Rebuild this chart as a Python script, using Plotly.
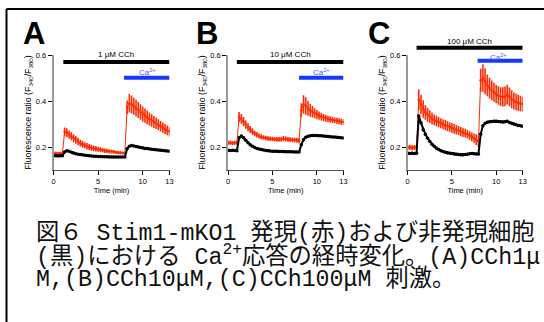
import plotly.graph_objects as go

# ---------------- data ----------------
TIME = [0, 0.25, 0.5, 0.75, 1, 1.25, 1.5, 1.75, 2, 2.25, 2.5, 2.75, 3, 3.25, 3.5, 3.75,
        4, 4.25, 4.5, 4.75, 5, 5.25, 5.5, 5.75, 6, 6.25, 6.5, 6.75, 7, 7.25, 7.5, 7.75,
        8, 8.25, 8.5, 8.75, 9, 9.25, 9.5, 9.75, 10, 10.25, 10.5, 10.75, 11, 11.25, 11.5,
        11.75, 12, 12.25, 12.5, 12.75, 13]

# Panel A: 1 uM CCh
RED_A = [0.172, 0.173, 0.171, 0.172, 0.173,
         0.266, 0.262, 0.254, 0.246, 0.238, 0.231, 0.224, 0.217, 0.212, 0.207, 0.203,
         0.200, 0.197, 0.194, 0.192, 0.190, 0.188, 0.186, 0.184, 0.183, 0.181, 0.180,
         0.179, 0.177, 0.176, 0.175, 0.174, 0.173,
         0.372, 0.390, 0.385, 0.377, 0.369, 0.361, 0.352, 0.343, 0.336, 0.329, 0.322,
         0.315, 0.309, 0.303, 0.297, 0.290, 0.284, 0.278, 0.272, 0.267]
RED_A_ERR = [0.007, 0.007, 0.007, 0.007, 0.007,
             0.019, 0.019, 0.018, 0.018, 0.017, 0.017, 0.016, 0.015, 0.015, 0.014, 0.014,
             0.013, 0.013, 0.012, 0.012, 0.011, 0.011, 0.010, 0.010, 0.009, 0.009, 0.008,
             0.008, 0.007, 0.007, 0.007, 0.006, 0.006,
             0.030, 0.040, 0.039, 0.037, 0.036, 0.035, 0.034, 0.033, 0.031, 0.030, 0.028,
             0.027, 0.026, 0.025, 0.024, 0.023, 0.022, 0.022, 0.021, 0.021]
BLACK_A = [0.162, 0.162, 0.161, 0.162, 0.162,
           0.178, 0.184, 0.181, 0.177, 0.174, 0.171, 0.169, 0.167, 0.166, 0.164, 0.163,
           0.162, 0.161, 0.160, 0.160, 0.159, 0.159, 0.158, 0.158, 0.158, 0.157, 0.157,
           0.157, 0.157, 0.156, 0.156, 0.156, 0.156,
           0.192, 0.203, 0.206, 0.204, 0.202, 0.200, 0.198, 0.196, 0.194, 0.193, 0.191,
           0.190, 0.189, 0.188, 0.187, 0.186, 0.185, 0.184, 0.183, 0.182]
BLACK_A_ERR = 0.003

# Panel B: 10 uM CCh
RED_B = [0.218, 0.219, 0.217, 0.218, 0.219,
         0.330, 0.322, 0.310, 0.297, 0.286, 0.276, 0.267, 0.259, 0.253, 0.248, 0.244,
         0.241, 0.239, 0.237, 0.236, 0.235, 0.234, 0.233, 0.233, 0.234, 0.237, 0.235,
         0.233, 0.232, 0.231, 0.230, 0.229, 0.227,
         0.360, 0.385, 0.378, 0.368, 0.360, 0.353, 0.347, 0.341, 0.336, 0.332, 0.328,
         0.325, 0.322, 0.320, 0.318, 0.316, 0.314, 0.312, 0.310, 0.309]
RED_B_ERR = [0.009, 0.009, 0.009, 0.009, 0.009,
             0.022, 0.021, 0.020, 0.018, 0.017, 0.015, 0.014, 0.012, 0.012, 0.011, 0.011,
             0.010, 0.010, 0.010, 0.010, 0.010, 0.010, 0.010, 0.010, 0.011, 0.011, 0.011,
             0.010, 0.010, 0.010, 0.010, 0.011, 0.011,
             0.030, 0.040, 0.038, 0.032, 0.028, 0.025, 0.022, 0.020, 0.018, 0.017, 0.016,
             0.015, 0.014, 0.014, 0.014, 0.013, 0.013, 0.013, 0.013, 0.013]
BLACK_B = [0.186, 0.185, 0.186, 0.185, 0.184,
           0.240, 0.248, 0.240, 0.229, 0.219, 0.210, 0.203, 0.198, 0.194, 0.191, 0.189,
           0.187, 0.185, 0.184, 0.183, 0.182, 0.181, 0.181, 0.180, 0.180, 0.180, 0.179,
           0.179, 0.179, 0.179, 0.178, 0.178, 0.178,
           0.210, 0.232, 0.242, 0.247, 0.249, 0.250, 0.250, 0.250, 0.249, 0.249, 0.248,
           0.247, 0.246, 0.245, 0.244, 0.243, 0.242, 0.241, 0.240, 0.239]
BLACK_B_ERR = 0.004

# Panel C: 100 uM CCh
RED_C = [0.198, 0.199, 0.197, 0.198, 0.199,
         0.405, 0.385, 0.365, 0.350, 0.340, 0.332, 0.324, 0.318, 0.313, 0.308, 0.303,
         0.299, 0.295, 0.291, 0.287, 0.283, 0.279, 0.275, 0.271, 0.267, 0.263, 0.260,
         0.256, 0.250, 0.244, 0.238, 0.232, 0.225,
         0.490, 0.500, 0.485, 0.468, 0.456, 0.446, 0.438, 0.430, 0.424, 0.419, 0.418,
         0.420, 0.428, 0.418, 0.408, 0.400, 0.396, 0.392, 0.389, 0.386]
RED_C_ERR = [0.011, 0.011, 0.011, 0.011, 0.011,
             0.045, 0.042, 0.038, 0.032, 0.030, 0.028, 0.026, 0.023, 0.023, 0.022, 0.022,
             0.022, 0.022, 0.022, 0.021, 0.021, 0.021, 0.021, 0.020, 0.020, 0.020, 0.019,
             0.019, 0.018, 0.019, 0.021, 0.023, 0.025,
             0.050, 0.060, 0.056, 0.047, 0.045, 0.043, 0.041, 0.040, 0.040, 0.041, 0.042,
             0.043, 0.043, 0.041, 0.039, 0.037, 0.036, 0.035, 0.034, 0.033]
BLACK_C = [0.173, 0.172, 0.173, 0.172, 0.173,
           0.335, 0.305, 0.275, 0.255, 0.238, 0.224, 0.212, 0.203, 0.195, 0.189, 0.184,
           0.180, 0.177, 0.175, 0.173, 0.172, 0.170, 0.168, 0.167, 0.166, 0.166, 0.167,
           0.169, 0.171, 0.172, 0.171, 0.170, 0.170,
           0.255, 0.292, 0.303, 0.308, 0.310, 0.311, 0.312, 0.312, 0.311, 0.310, 0.309,
           0.310, 0.312, 0.307, 0.303, 0.300, 0.297, 0.294, 0.292, 0.290]
BLACK_C_ERR = 0.006

PANELS = ["A", "B", "C"]
CCH_LABELS = ["1 μM CCh", "10 μM CCh", "100 μM CCh"]
CCH_START = [1.1, 1.0, 1.0]     # min
CA_START = [7.9, 8.0, 7.9]      # min
BAR_END = 13
X_TICKS = [0, 5, 10, 13]
Y_TICKS = [0.2, 0.4, 0.6]
Y_TICK_TEXT = ["0.2", "0.4", "0.6"]

SERIES = [
    (RED_A, RED_A_ERR, BLACK_A, BLACK_A_ERR),
    (RED_B, RED_B_ERR, BLACK_B, BLACK_B_ERR),
    (RED_C, RED_C_ERR, BLACK_C, BLACK_C_ERR),
]

CAPTION = [
    "図６ Stim1-mKO1 発現(赤)および非発現細胞",
    "(黒)における Ca<sup>2+</sup>応答の経時変化。(A)CCh1μ",
    "M,(B)CCh10μM,(C)CCh100μM 刺激。",
]

# ---------------- layout helpers ----------------
W, H = 544, 322
X_DOMAINS = [[53.5 / W, 169.5 / W], [228 / W, 343.5 / W], [407.7 / W, 522.7 / W]]
Y_DOMAIN = [1 - 170 / H, 1 - 55 / H]
RED = "#ff2a00"
BLUE = "#1438ff"
SANS = "Liberation Sans, Arial, sans-serif"

BAR_POS = [
    dict(lab=1.0, black=0.939, ca_lab=0.85, blue=0.803),
    dict(lab=1.0, black=0.939, ca_lab=0.85, blue=0.803),
    dict(lab=1.118, black=1.063, ca_lab=0.985, blue=0.950),
]
CA_LABEL_X = [10.5, 10.5, 10.3]
LETTER_X = [34, 206.5, 378.5]

fig = go.Figure()
shapes = []
annotations = []

for i, (red, red_err, black, black_err) in enumerate(SERIES):
    n = "" if i == 0 else str(i + 1)
    xa, ya = "x" + n, "y" + n
    fig.add_trace(go.Scatter(
        x=TIME, y=red, xaxis=xa, yaxis=ya, mode="lines+markers",
        line=dict(color=RED, width=1), marker=dict(color=RED, size=2.5),
        error_y=dict(type="data", array=red_err, color=RED, thickness=1.6, width=0),
        showlegend=False, hoverinfo="skip"))
    fig.add_trace(go.Scatter(
        x=TIME, y=black, xaxis=xa, yaxis=ya, mode="lines+markers",
        line=dict(color="black", width=2), marker=dict(color="black", size=3.5),
        error_y=dict(type="constant", value=black_err, color="black", thickness=1.2, width=0),
        showlegend=False, hoverinfo="skip"))

    fig.layout["xaxis" + n] = dict(
        domain=X_DOMAINS[i], anchor=ya, range=[0, 13], tickvals=X_TICKS, automargin=False,
        ticks="outside", ticklen=4, tickwidth=1, tickcolor="black",
        showline=True, linecolor="#555", linewidth=1, showgrid=False, zeroline=False,
        tickfont=dict(family=SANS, size=7.5, color="black"),
        title=dict(text="Time (min)", font=dict(family=SANS, size=7.5, color="black"), standoff=1))
    fig.layout["yaxis" + n] = dict(
        domain=Y_DOMAIN, anchor=xa, range=[0.1, 0.6], tickvals=Y_TICKS, ticktext=Y_TICK_TEXT,
        automargin=False,
        ticks="outside", ticklen=4, tickwidth=1, tickcolor="black",
        showline=True, linecolor="#9a9a9a", linewidth=1.5, showgrid=False, zeroline=False,
        tickfont=dict(family=SANS, size=7.5, color="black"),
        title=dict(text="Fluorescence ratio (F<sub>340</sub>/F<sub>380</sub>)",
                   font=dict(family=SANS, size=8.8, color="black"), standoff=3))

    p = BAR_POS[i]
    yd = ya + " domain"
    shapes.append(dict(type="line", xref=xa, yref=yd, x0=CCH_START[i], x1=BAR_END,
                       y0=p["black"], y1=p["black"], line=dict(color="black", width=4)))
    shapes.append(dict(type="line", xref=xa, yref=yd, x0=CA_START[i], x1=BAR_END,
                       y0=p["blue"], y1=p["blue"], line=dict(color=BLUE, width=4)))
    annotations.append(dict(xref=xa, yref=yd, x=7, y=p["lab"], text=CCH_LABELS[i],
                            showarrow=False, font=dict(family=SANS, size=8, color="black"),
                            xanchor="center", yanchor="middle"))
    annotations.append(dict(xref=xa, yref=yd, x=CA_LABEL_X[i], y=p["ca_lab"],
                            text="Ca<sup>2+</sup>", showarrow=False,
                            font=dict(family=SANS, size=8, color="#3a5cff"),
                            xanchor="center", yanchor="middle"))
    annotations.append(dict(xref="paper", yref="paper", x=LETTER_X[i] / W, y=1 - 34 / H,
                            text="<b>%s</b>" % PANELS[i], showarrow=False,
                            font=dict(family=SANS, size=31, color="black"),
                            xanchor="center", yanchor="middle"))

CAP_Y = [233, 256, 279]
for j, line in enumerate(CAPTION):
    annotations.append(dict(xref="paper", yref="paper", x=34 / W, y=1 - CAP_Y[j] / H,
                            text=line, showarrow=False, xanchor="left", yanchor="middle",
                            font=dict(family="Liberation Mono, Noto Sans CJK JP, monospace",
                                      size=23.3, color="#111")))

# frame lines (top and left)
shapes.append(dict(type="line", xref="paper", yref="paper", x0=6.5 / W, x1=1,
                   y0=1 - 9 / H, y1=1 - 9 / H, line=dict(color="black", width=2)))
shapes.append(dict(type="line", xref="paper", yref="paper", x0=6.5 / W, x1=6.5 / W,
                   y0=0, y1=1 - 9 / H, line=dict(color="black", width=2)))

fig.update_layout(width=W, height=H, margin=dict(l=0, r=0, t=0, b=0, autoexpand=False),
                  paper_bgcolor="white", plot_bgcolor="white",
                  shapes=shapes, annotations=annotations)

fig.write_html("out.html", config={"displayModeBar": False},
               post_script="document.body.style.margin='0';document.body.style.padding='0';")
